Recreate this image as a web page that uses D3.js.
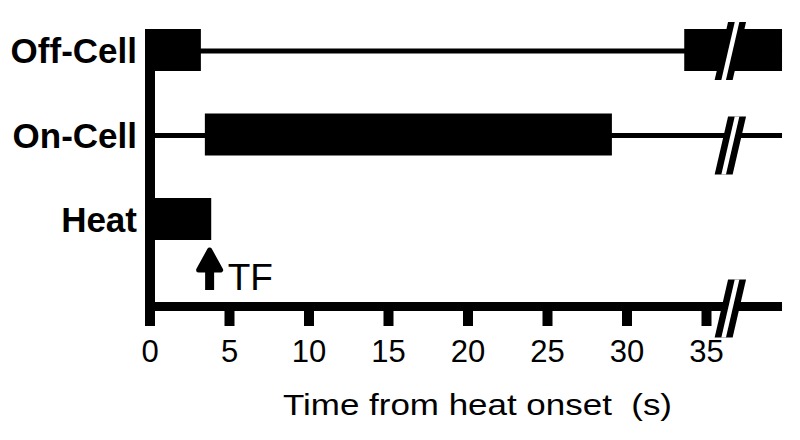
<!DOCTYPE html>
<html>
<head>
<meta charset="utf-8">
<script src="https://cdnjs.cloudflare.com/ajax/libs/d3/7.8.5/d3.min.js"></script>
<style>
  body { margin: 0; background: #fff; }
  svg { display: block; }
  text { font-family: "Liberation Sans", Arial, sans-serif; fill: #000; }
</style>
</head>
<body>
<div id="chart"></div>
<script>
// rows of the raster, top to bottom
var rows = ["Off-Cell", "On-Cell", "Heat"];

// firing / stimulus periods in seconds from heat onset
var offCellBursts = [[0, 3.2], [33.6, 39.75]];
var onCellBursts = [[3.45, 29.05]];
var heatPeriods = [[0, 3.85]];

// rows that have a thin baseline trace (cells)
var traceRows = ["Off-Cell", "On-Cell"];

// tail-flick time (s)
var tfTime = 3.75;
var tfLabel = "TF";

// where the time axis is cut
var breakTime = 36.5;

var tickValues = [0, 5, 10, 15, 20, 25, 30, 35];
var xTitle = "Time from heat onset  (s)";
var xEnd = 39.75;

var svgWidth = 800;
var svgHeight = 440;

var svg = d3.select("#chart")
    .append("svg")
    .attr("width", svgWidth)
    .attr("height", svgHeight);

// scales
var xScale = d3.scaleLinear()
    .domain([0, 35])
    .range([150, 706.5]);

var yScale = d3.scalePoint()
    .domain(rows)
    .range([50, 219]);

var boxH = 42;
var axisY = 306.5;

var bursts = [];
offCellBursts.forEach(function (b) { bursts.push({ row: "Off-Cell", start: b[0], end: b[1] }); });
onCellBursts.forEach(function (b) { bursts.push({ row: "On-Cell", start: b[0], end: b[1] }); });
heatPeriods.forEach(function (b) { bursts.push({ row: "Heat", start: b[0], end: b[1] }); });

// thin baseline traces
svg.selectAll(".trace")
    .data(traceRows)
    .enter()
    .append("line")
    .attr("x1", xScale(0))
    .attr("x2", xScale(xEnd))
    .attr("y1", d => yScale(d) + 1)
    .attr("y2", d => yScale(d) + 1)
    .attr("stroke", "#000")
    .attr("stroke-width", 5);

// bursts as solid boxes
svg.selectAll(".burst")
    .data(bursts)
    .enter()
    .append("rect")
    .attr("x", d => xScale(d.start))
    .attr("y", d => yScale(d.row) - boxH / 2)
    .attr("width", d => xScale(d.end) - xScale(d.start))
    .attr("height", boxH)
    .attr("fill", "#000");

// y axis (thick vertical bar, runs down to the 0 tick)
svg.append("rect")
    .attr("x", xScale(0) - 5)
    .attr("y", yScale("Off-Cell") - boxH / 2)
    .attr("width", 10)
    .attr("height", axisY + 19.5 - (yScale("Off-Cell") - boxH / 2))
    .attr("fill", "#000");

// x axis line
svg.append("rect")
    .attr("x", xScale(0) - 5)
    .attr("y", axisY - 4.5)
    .attr("width", xScale(xEnd) - xScale(0) + 5)
    .attr("height", 9)
    .attr("fill", "#000");

// ticks
svg.selectAll(".tick")
    .data(tickValues.slice(1))
    .enter()
    .append("rect")
    .attr("x", d => xScale(d) - 5)
    .attr("y", axisY + 4)
    .attr("width", 10)
    .attr("height", 15.5)
    .attr("fill", "#000");

svg.selectAll(".tickLabel")
    .data(tickValues)
    .enter()
    .append("text")
    .attr("x", d => xScale(d))
    .attr("y", 362)
    .attr("text-anchor", "middle")
    .attr("font-size", "31px")
    .text(d => d);

// axis title (keep the double space)
svg.append("text")
    .attr("x", 283)
    .attr("y", 415)
    .attr("font-size", "30px")
    .attr("textLength", 389)
    .attr("lengthAdjust", "spacingAndGlyphs")
    .style("white-space", "pre")
    .text(xTitle);

// row labels
svg.selectAll(".rowLabel")
    .data(rows)
    .enter()
    .append("text")
    .attr("x", 137)
    .attr("y", d => yScale(d) + 13)
    .attr("text-anchor", "end")
    .attr("font-size", "35px")
    .attr("font-weight", "bold")
    .text(d => d);

// axis break marks: black band with white gap
function drawBreak(cy) {
    var xb = xScale(breakTime);
    var h = 29, lean = 6.7;
    function band(w) {
        return "M" + (xb + lean - w) + "," + (cy - h) +
            "L" + (xb + lean + w) + "," + (cy - h) +
            "L" + (xb - lean + w) + "," + (cy + h) +
            "L" + (xb - lean - w) + "," + (cy + h) + "Z";
    }
    svg.append("path").attr("d", band(9)).attr("fill", "#000");
    svg.append("path").attr("d", band(2.3)).attr("fill", "#fff");
}
drawBreak(yScale("Off-Cell") + 1);
drawBreak(yScale("On-Cell") + 11);
drawBreak(axisY + 2);

// tail-flick arrow
var ax = xScale(tfTime);
svg.append("rect")
    .attr("x", ax - 4.5)
    .attr("y", 262)
    .attr("width", 9)
    .attr("height", 28)
    .attr("fill", "#000");

svg.append("path")
    .attr("d", "M" + (ax - 11) + ",270L" + ax + ",250L" + (ax + 11) + ",270Z")
    .attr("fill", "#000")
    .attr("stroke", "#000")
    .attr("stroke-width", 5)
    .attr("stroke-linejoin", "round");

svg.append("text")
    .attr("x", ax + 18)
    .attr("y", 290)
    .attr("font-size", "37px")
    .text(tfLabel);
</script>
</body>
</html>
